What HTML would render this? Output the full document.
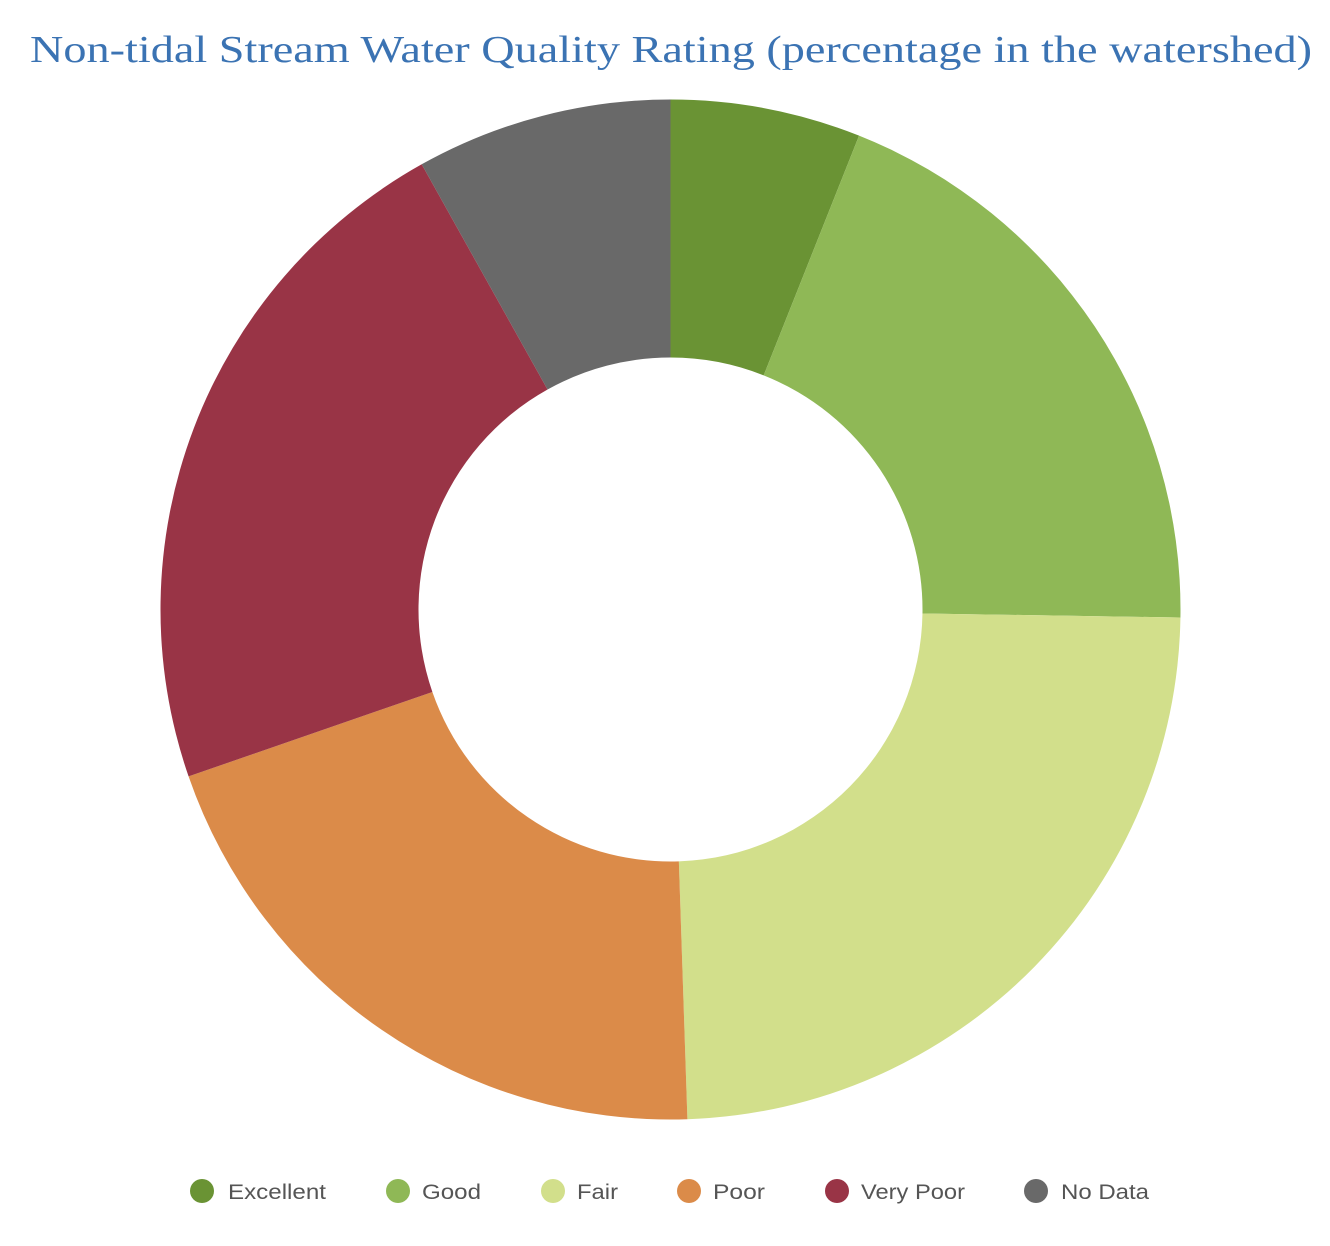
<!DOCTYPE html>
<html><head><meta charset="utf-8"><style>
html,body{margin:0;padding:0;background:#fff;}
svg{display:block;}
</style></head><body>
<svg id="s" width="1330" height="1246" viewBox="0 0 1330 1246" xmlns="http://www.w3.org/2000/svg">
<text x="30" y="62" textLength="1282" lengthAdjust="spacingAndGlyphs" font-family="Liberation Serif, serif" font-size="38" fill="#3b73b3">Non-tidal Stream Water Quality Rating (percentage in the watershed)</text>
<g id="pie"></g>
<g font-family="Liberation Sans, sans-serif" font-size="21" fill="#555">
<circle cx="202" cy="1191" r="12" fill="#6a9334"/><text x="228" y="1199" textLength="98" lengthAdjust="spacingAndGlyphs">Excellent</text>
<circle cx="398" cy="1191" r="12" fill="#8fb856"/><text x="422" y="1199" textLength="59" lengthAdjust="spacingAndGlyphs">Good</text>
<circle cx="553" cy="1191" r="12" fill="#d2df8b"/><text x="577" y="1199" textLength="41" lengthAdjust="spacingAndGlyphs">Fair</text>
<circle cx="689" cy="1191" r="12" fill="#db8b49"/><text x="713" y="1199" textLength="52" lengthAdjust="spacingAndGlyphs">Poor</text>
<circle cx="837" cy="1191" r="12" fill="#993446"/><text x="861" y="1199" textLength="104" lengthAdjust="spacingAndGlyphs">Very Poor</text>
<circle cx="1036" cy="1191" r="12" fill="#696969"/><text x="1061" y="1199" textLength="88" lengthAdjust="spacingAndGlyphs">No Data</text>
</g>
</svg>
<script>
var cx=670.5,cy=609.5,R=510,r=252;
var b=[0,21.7,90.9,178.1,250.9,330.8,360];
var c=["#6a9334","#8fb856","#d2df8b","#db8b49","#993446","#696969"];
function p(a,rad){var t=a*Math.PI/180;return [cx+rad*Math.sin(t),cy-rad*Math.cos(t)];}
var g=document.getElementById("pie"),h="";
for(var i=0;i<6;i++){var a0=b[i],a1=b[i+1],l=(a1-a0)>180?1:0;
var A=p(a0,R),B=p(a1,R),C=p(a1,r),D=p(a0,r);
h+='<path fill="'+c[i]+'" d="M'+A+'A'+R+','+R+' 0 '+l+' 1 '+B+'L'+C+'A'+r+','+r+' 0 '+l+' 0 '+D+'Z"/>';}
g.innerHTML=h;
</script>
</body></html>
